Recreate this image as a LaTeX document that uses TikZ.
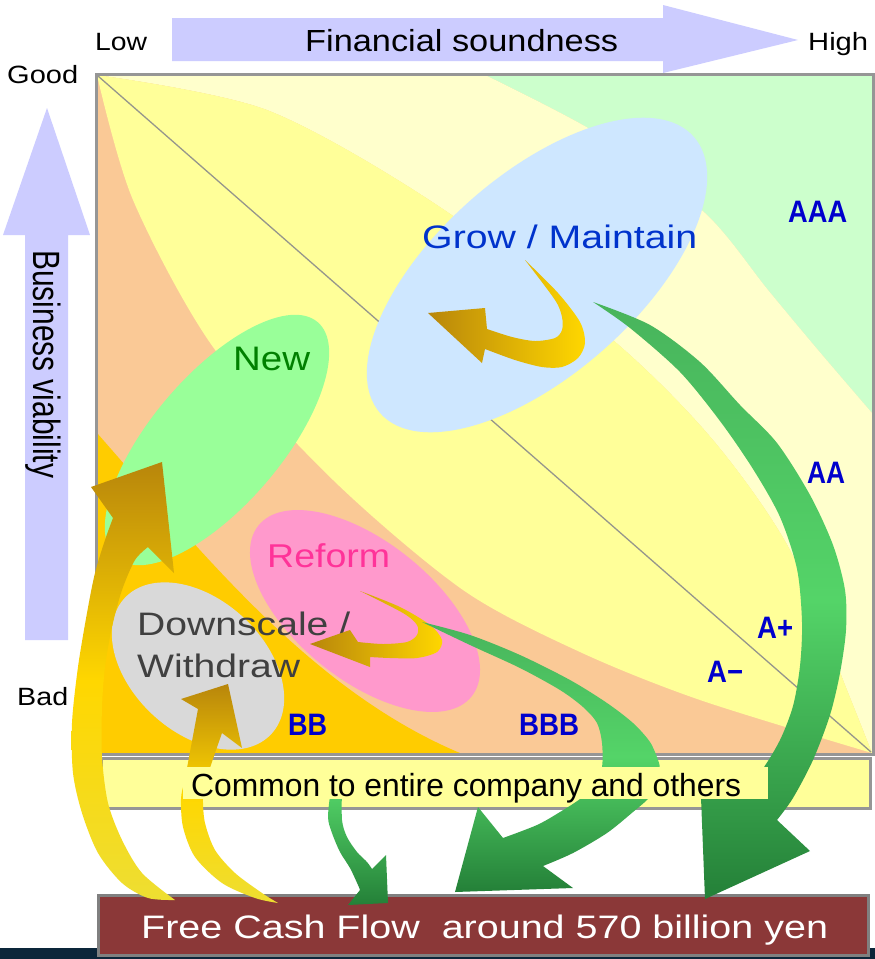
\documentclass[tikz,border=0pt]{standalone}
\usepackage{fontspec}
\setmainfont{Liberation Sans}
\usepackage{graphicx}
\definecolor{lav}{RGB}{204,204,255}
\definecolor{peach}{RGB}{250,201,150}
\definecolor{zgreen}{RGB}{204,255,204}
\definecolor{pale}{RGB}{255,255,204}
\definecolor{yel}{RGB}{255,255,153}
\definecolor{goldz}{RGB}{255,204,0}
\definecolor{sqborder}{RGB}{150,150,150}
\definecolor{growc}{RGB}{206,231,255}
\definecolor{newc}{RGB}{153,255,153}
\definecolor{refc}{RGB}{255,153,204}
\definecolor{downc}{RGB}{217,217,217}
\definecolor{growt}{RGB}{0,51,204}
\definecolor{newt}{RGB}{0,128,0}
\definecolor{reft}{RGB}{255,51,153}
\definecolor{downt}{RGB}{64,64,64}
\definecolor{lbl}{RGB}{0,0,204}
\definecolor{barc}{RGB}{255,255,153}
\definecolor{fcfc}{RGB}{139,56,56}
\definecolor{navyc}{RGB}{12,38,58}
\definecolor{dgc}{RGB}{184,134,11}
\definecolor{gdc}{RGB}{255,215,0}
\definecolor{glc}{RGB}{238,222,50}
\definecolor{grA}{RGB}{72,180,92}
\definecolor{grB}{RGB}{84,212,104}
\definecolor{grC}{RGB}{36,128,56}
\definecolor{diagc}{RGB}{150,150,140}
\newsavebox{\tbx}
\newcommand{\fitw}[2]{\sbox{\tbx}{#2}\pgfmathsetmacro{\myfr}{#1/\the\wd\tbx}\scalebox{\myfr}[1]{\usebox{\tbx}}}
\newcommand{\fs}[1]{\fontsize{#1}{#1}\selectfont}
\begin{document}
\begin{tikzpicture}[x=1pt,y=-1pt,
  txt/.style={inner sep=0pt, anchor=base west},
  lab/.style={txt, text=lbl, font=\bfseries\fs{31}},
  goldarrow/.style={left color=dgc, right color=gdc}]
\useasboundingbox (0,0) rectangle (875,959);
\fill[white] (0,0) rectangle (875,959);

% axis arrows
\fill[lav] (172,18) -- (663,18) -- (663,5) -- (798,40) -- (663,73) -- (663,61) -- (172,61) -- cycle;
\fill[lav] (25,640) -- (25,235) -- (3,235) -- (47,108) -- (90,235) -- (68,235) -- (68,640) -- cycle;
\node[txt] (fin) at (305,51) {\fs{30.5}\fitw{313}{Financial soundness}};
\node[txt] (low) at (95,50) {\fs{25}\fitw{52}{Low}};
\node[txt] (high) at (808,50) {\fs{25}\fitw{60}{High}};
\node[txt] (good) at (7,83) {\fs{25}\fitw{71}{Good}};
\node[txt] (bad) at (17,705) {\fs{25}\fitw{51}{Bad}};
\node[txt, rotate=-90] (bv) at (33,250) {\fs{38}\fitw{228}{Business viability}};

% zones
\fill[peach] (97,75) rectangle (872,753);
\fill[zgreen] (485,75) -- (872,75) -- (872,413) -- plot[smooth] coordinates {(872,413) (818,350) (768,290) (705,213) (600,135) (485,75)} -- cycle;
\fill[pale] (97,75) -- (485,75) -- plot[smooth] coordinates {(485,75) (600,135) (705,213) (768,290) (818,350) (872,413)} -- (872,753)
  -- plot[smooth] coordinates {(872,753) (847,690) (790,550) (713,440) (613,340) (440,207) (267,110) (97,75)} -- cycle;
\fill[yel] plot[smooth] coordinates {(97,75) (267,110) (440,207) (613,340) (713,440) (790,550) (847,690) (872,753)}
  -- plot[smooth] coordinates {(872,753) (700,700) (580,652) (463,590) (333,480) (213,347) (133,200) (97,75)} -- cycle;
\fill[goldz] (97,433) .. controls (200,550) and (310,690) .. (460,753) -- (97,753) -- cycle;
\draw[sqborder, line width=3pt] (96.5,74.5) rectangle (873,754);
\draw[diagc, line width=1.3pt] (98,76) -- (871,752);

% ellipses
\fill[growc, shift={(537,275)}, rotate=41.4] (0,0) ellipse [x radius=209pt, y radius=100pt];
\fill[newc, shift={(217,440)}, rotate=49.5] (0,0) ellipse [x radius=155pt, y radius=65pt];
\fill[downc, shift={(198,666)}, rotate=-42.8] (0,0) ellipse [x radius=100pt, y radius=66.5pt];
\fill[refc, shift={(365,611)}, rotate=-38.7] (0,0) ellipse [x radius=136.6pt, y radius=69pt];

% texts
\node[txt, text=growt] (grow) at (422,248) {\fs{32.5}\fitw{275}{Grow / Maintain}};
\node[txt, text=newt] (new) at (233,370) {\fs{34}\fitw{77}{New}};
\node[txt, text=reft] (reform) at (267,567) {\fs{33}\fitw{123}{Reform}};
\node[txt, text=downt] (down1) at (137,635) {\fs{32.5}\fitw{213}{Downscale /}};
\node[txt, text=downt] (down2) at (137,677) {\fs{32.5}\fitw{163}{Withdraw}};

% rating labels
\node[lab] (aaa) at (788,222) {\fitw{59}{AAA}};
\node[lab] (aa) at (807,483) {\fitw{38}{AA}};
\node[lab] (ap) at (757,638) {\fitw{36}{A+}};
\node[lab] (am) at (707,682) {\fitw{36}{A−}};
\node[lab] (bb) at (288,735) {\fitw{39}{BB}};
\node[lab] (bbb) at (519,735) {\fitw{60}{BBB}};

% bottom bar and FCF box
\draw[sqborder, line width=3pt, fill=barc] (101,758) rectangle (870,808);
\fill[navyc] (0,948) rectangle (875,959);
\draw[draw={rgb,255:red,128;green,128;blue,128}, line width=3pt, fill=fcfc] (98,895) rectangle (868,955);
\node[txt, text=white] (fcf) at (141,938) {\fs{32.5}\fitw{687}{Free Cash Flow\ \ around 570 billion yen}};

% gold arrows
\shade[goldarrow] plot[smooth] coordinates {(525,260) (558,293) (580,322) (585,343) (578,358) (562,367) (542,367) (515,360) (485,349)}
  -- (482,363) -- (428,313) -- (485,308)
  -- plot[smooth] coordinates {(487,329) (512,337) (535,341) (555,338) (562,330) (562,317) (555,300) (525,260)} -- cycle;
\shade[goldarrow] plot[smooth] coordinates {(360,591) (400,607) (430,625) (442,640) (437,652) (417,658) (390,658) (370,657)}
  -- (370,667) -- (310,644) -- (350,630)
  -- plot[smooth] coordinates {(358,642) (383,644) (407,642) (417,635) (417,625) (403,613) (360,591)} -- cycle;
\shade[top color=dgc, bottom color=glc, middle color=gdc] plot[smooth] coordinates {(175,900) (148,898) (122,883) (98,853) (82,813) (73,773) (72,723) (78,667) (87,613) (95,573) (105,540) (113,518)}
  -- (91,487) -- (162,462) -- (174,573)
  -- plot[smooth] coordinates {(148,547) (135,560) (122,590) (112,627) (105,667) (102,707) (102,757) (108,803) (122,840) (142,873) (175,900)} -- cycle;
\shade[top color=dgc, bottom color=glc, middle color=gdc] plot[smooth] coordinates {(278,903) (255,898) (222,883) (195,857) (183,827) (181,799) (184,783) (187,768) (198,709)}
  -- (181,699) -- (228,684) -- (242,748)
  -- plot[smooth] coordinates {(222,733) (210,768) (206,785) (203,799) (205,823) (215,850) (235,873) (262,893) (278,903)} -- cycle;

% green arrows
\shade[top color=grA, bottom color=grC, middle color=grB] plot[smooth] coordinates {(593,302) (650,325) (700,362) (740,405) (777,443) (810,495) (833,545) (845,590) (846,630) (840,673) (830,715) (813,760) (793,798) (777,820)}
  -- (810,851) -- (705,899) -- (700,772)
  -- plot[smooth] coordinates {(741,795) (762,770) (780,740) (793,706) (800,666) (802,622) (797,569) (780,517) (753,469) (720,421) (680,372) (630,328) (593,302)} -- cycle;
\shade[top color=grA, bottom color=grC, middle color=grB] plot[smooth] coordinates {(422,622) (470,635) (520,655) (570,680) (607,703) (633,723) (650,742) (658,760) (660,770) (657,787) (648,799) (633,812) (607,833) (573,853) (543,866)}
  -- (573,888) -- (455,892) -- (478,807)
  -- plot[smooth] coordinates {(503,838) (537,825) (560,812) (580,799) (595,785) (602,767) (602,743) (597,723) (583,707) (560,690) (520,668) (470,645) (422,622)} -- cycle;
\shade[top color=grB, bottom color=grC] plot[smooth] coordinates {(331,788) (328,817) (332,833) (340,852) (350,868) (358,885) (360,890)}
  -- (348,905) -- (388,903) -- (386,855)
  -- plot[smooth] coordinates {(372,869) (367,862) (357,852) (347,837) (342,820) (342,788)} -- cycle;

% text box on the bar
\fill[barc] (183,767) rectangle (768,799);
\node[txt] (common) at (191,796) {\fs{32}\fitw{550}{Common to entire company and others}};
\end{tikzpicture}
\end{document}
